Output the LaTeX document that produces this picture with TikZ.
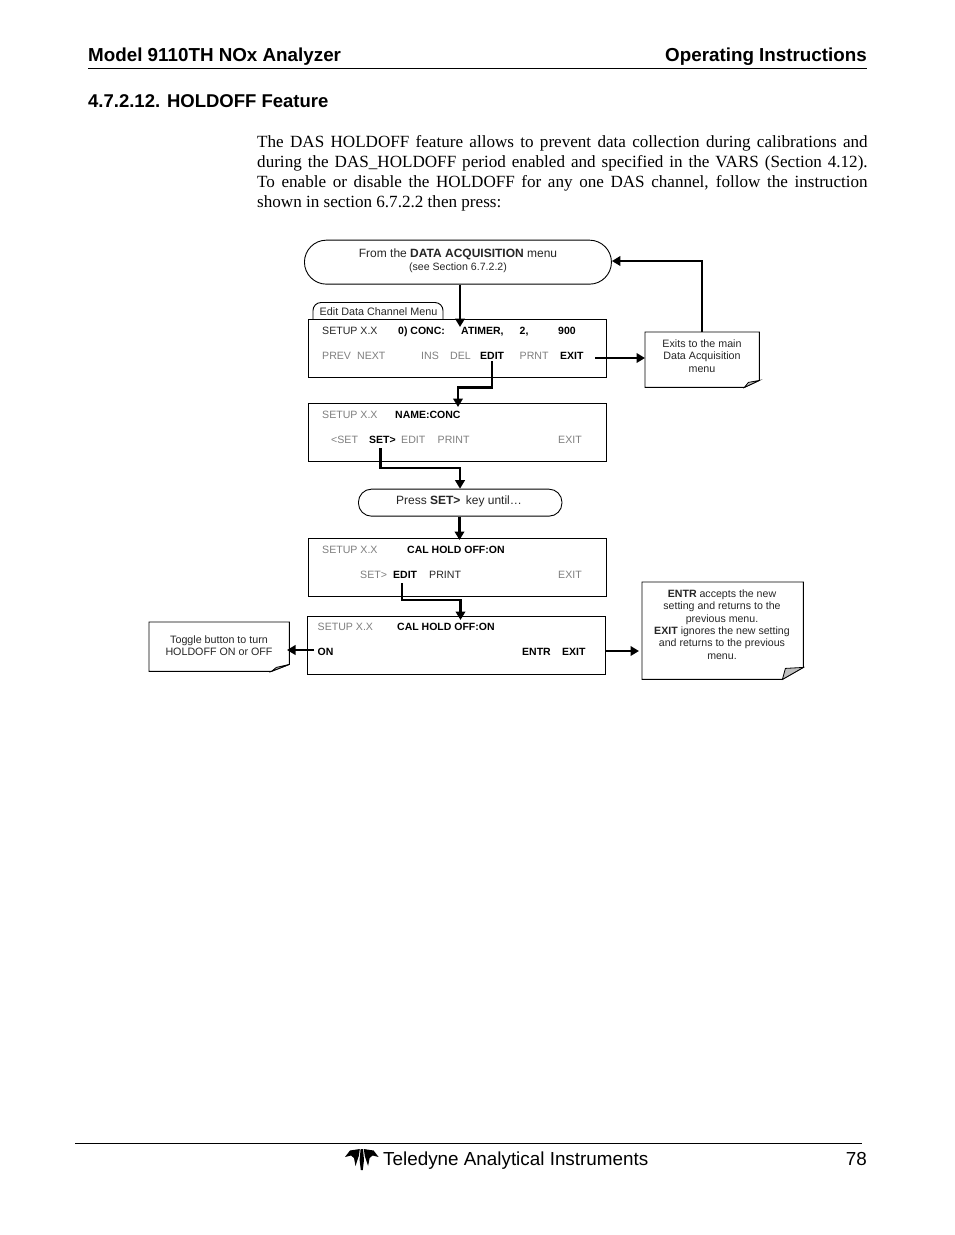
\documentclass[tikz,border=0pt]{standalone}
\usepackage{fontspec}
\setmainfont{Liberation Serif}
\newfontfamily\ar{Liberation Sans}
\usetikzlibrary{arrows.meta}
\definecolor{keygray}{HTML}{7F7F7F}
\definecolor{foldgray}{HTML}{BFBFBF}
\tikzset{
 x=1pt,y=-1pt,
 screen/.style={draw=black,line width=0.9pt,fill=white,minimum width=297.5pt,minimum height=57.5pt,inner sep=0pt,anchor=north west},
 pill/.style={draw=black,line width=0.9pt,fill=white,inner sep=0pt,anchor=north west,rounded corners=#1},
 conn/.style={line width=2.2pt,-{Triangle[length=8.5pt,width=9.5pt]},rounded corners=0pt},
 key/.style={font=\ar\fontsize{10.6}{12.5}\selectfont,anchor=base west,inner sep=0pt,text=black!85},
 big/.style={font=\ar\fontsize{12}{14}\selectfont,anchor=base,inner sep=0pt,text=black!85},
 off/.style={font=\ar\fontsize{10.6}{12.5}\selectfont,anchor=base west,inner sep=0pt,text=keygray},
 on/.style={font=\ar\bfseries\fontsize{10.5}{12.5}\selectfont,anchor=base west,inner sep=0pt,text=black},
 notebox/.style={inner sep=0pt,anchor=north west,align=center,font=\ar\fontsize{10.7}{12.5}\selectfont,text=black!85},
 head/.style={font=\ar\bfseries\fontsize{18.8}{20}\selectfont,anchor=base west,inner sep=0pt},
 foot/.style={font=\ar\fontsize{18.85}{22}\selectfont,anchor=base west,inner sep=0pt},
 rule/.style={line width=0.9pt,draw=black},
}
\newcommand{\lbl}[5]{\node[#4] (#1) at (#2,#3) {#5};}
% name, dx of fold on the bottom, dy of fold on the right, inner dx, inner dy
\newcommand{\foldnote}[5]{%
 \draw[line width=0.9pt,fill=white] (#1.north west) -- (#1.north east) -- ([yshift=#3pt]#1.south east) -- ([xshift=-#2pt]#1.south east) -- (#1.south west) -- cycle;
 \draw[line width=0.8pt,fill=foldgray] ([xshift=-#2pt]#1.south east) -- ([yshift=#3pt]#1.south east) -- ([xshift=-#4pt,yshift=#5pt]#1.south east) -- cycle;
 \draw[line width=1.4pt] (#1.north east) -- ([yshift=#3pt]#1.south east);
}
\begin{document}
\begin{tikzpicture}
\useasboundingbox (0,0) rectangle (954,1235);
\fill[white] (0,0) rectangle (954,1235);

% page header
\lbl{h1}{88}{61}{head}{Model 9110TH NOx Analyzer}
\node[head,anchor=base east] (h2) at (867,61) {Operating Instructions};
\draw[rule] (88,68.5) -- (867,68.5);
\lbl{h3}{88}{107.5}{head,font=\ar\bfseries\fontsize{18.5}{20}\selectfont}{4.7.2.12. HOLDOFF Feature}
\node[anchor=north west,inner sep=0pt,text width=610.5pt,align=justify,font=\fontsize{17.1}{20}\selectfont] (para) at (257,135.5)
{The DAS HOLDOFF feature allows to prevent data collection during calibrations and\linebreak
during the DAS\_HOLDOFF period enabled and specified in the VARS (Section 4.12).\linebreak
To enable or disable the HOLDOFF for any one DAS channel, follow the instruction\linebreak
shown in section 6.7.2.2 then press:};

% top oval
\node[pill=22pt,minimum width=307pt,minimum height=44pt] (oval1) at (304,239.7) {};
\lbl{o1a}{458}{257}{big}{From the \textbf{DATA ACQUISITION} menu}
\node[key,anchor=base,font=\ar\fontsize{10.6}{12}\selectfont] (o1b) at (458,270) {(see Section 6.7.2.2)};

% tab
\draw[line width=0.9pt,fill=white,rounded corners=8pt] (313,320) -- (313,302.5) -- (443,302.5) -- (443,320);
\lbl{tab}{319.5}{315}{key,font=\ar\fontsize{10.8}{12.5}\selectfont}{Edit Data Channel Menu}

% screens
\node[screen] (s1) at (308,319) {};
\lbl{a1}{322}{334}{key}{SETUP X.X}
\lbl{a2}{398}{334}{on}{0) CONC:}
\lbl{a3}{461}{334}{on}{ATIMER,}
\lbl{a4}{519.5}{334}{on}{2,}
\lbl{a5}{558}{334}{on}{900}
\lbl{b1}{322}{359}{off}{PREV}
\lbl{b2}{357}{359}{off}{NEXT}
\lbl{b3}{421}{359}{off}{INS}
\lbl{b4}{450}{359}{off}{DEL}
\lbl{b5}{480}{359}{on}{EDIT}
\lbl{b6}{519.5}{359}{off}{PRNT}
\lbl{b7}{560}{359}{on}{EXIT}

\node[screen] (s2) at (308,403) {};
\lbl{c1}{322}{418}{off}{SETUP X.X}
\lbl{c2}{395}{418}{on}{NAME:CONC}
\lbl{d1}{331}{443}{off}{<SET}
\lbl{d2}{369}{443}{on}{SET>}
\lbl{d3}{401}{443}{off}{EDIT}
\lbl{d4}{437.5}{443}{off}{PRINT}
\lbl{d5}{558}{443}{off}{EXIT}

\node[pill=13pt,minimum width=203.5pt,minimum height=27pt] (oval2) at (358,488.7) {};
\lbl{o2}{459}{504}{big}{Press \textbf{SET>}\, key until…}

\node[screen] (s3) at (308,538) {};
\lbl{e1}{322}{553}{off}{SETUP X.X}
\lbl{e2}{407}{553}{on}{CAL HOLD OFF:ON}
\lbl{f1}{360}{578}{off}{SET>}
\lbl{f2}{393}{578}{on}{EDIT}
\lbl{f3}{429}{578}{key}{PRINT}
\lbl{f4}{558}{578}{off}{EXIT}

\node[screen] (s4) at (307,616) {};
\draw[line width=1.6pt] (s4.north east) -- (s4.south east) -- (s4.south west);
\lbl{g1}{317.5}{630}{off}{SETUP X.X}
\lbl{g2}{397}{630}{on}{CAL HOLD OFF:ON}
\lbl{g3}{317.5}{655}{on}{ON}
\lbl{g4}{522}{655}{on}{ENTR}
\lbl{g5}{562}{655}{on}{EXIT}

% notes
\node[notebox,minimum width=114pt,minimum height=55pt] (n1) at (645,332) {};
\foldnote{n1}{15}{7}{11}{5}
\node[notebox,anchor=center] (n1t) at (702,356) {Exits to the main\\Data Acquisition\\menu};
\node[notebox,minimum width=161pt,minimum height=97pt] (n2) at (642,582) {};
\foldnote{n2}{21}{12}{18}{11}
\node[notebox,anchor=center,font=\ar\fontsize{10.6}{12.4}\selectfont] (n2t) at (722,624.5) {\textbf{ENTR} accepts the new\\setting and returns to the\\previous menu.\\\textbf{EXIT} ignores the new setting\\and returns to the previous\\menu.};
\node[notebox,minimum width=140pt,minimum height=49pt] (n3) at (149,622) {};
\foldnote{n3}{18}{7}{13}{4}
\node[notebox,anchor=center] (n3t) at (219,645.5) {Toggle button to turn\\HOLDOFF ON or OFF};

% turning points and arrow ends
\coordinate (t1) at (460,327);
\coordinate (bend1) at (458,387.5);
\coordinate (t2) at (458,407);
\coordinate (bend2) at (460,468);
\coordinate (bend3) at (460.5,600);
\coordinate (t3) at (460.5,620);
\coordinate (x1) at (595,358);
\coordinate (x4) at (605,651);
\coordinate (on1) at (314,650);
\coordinate (on2) at (287,650);
\coordinate (top1) at (702,261);
\coordinate (n2in) at (639,651);

% connectors
\draw[conn] (oval1.south -| t1) -- (t1);
\draw[conn] ([yshift=-2pt]b5.south) -- (b5.south |- bend1) -- (bend1) -- (t2);
\draw[conn] (x1) -- (n1.west |- x1);
\draw[conn] (n1.north -| top1) -- (top1) -- (oval1.east |- top1);
\draw[conn] (380.5,448) -- (380.5,468) -- (bend2) -- (oval2.north -| bend2);
\draw[conn] (oval2.south -| 459.5,0) -- (459.5,540);
\draw[conn] (402,583) -- (402,600) -- (bend3) -- (t3);
\draw[conn] (on1) -- (on2);
\draw[conn] (x4) -- (n2in);

% footer
\draw[rule] (75,1143) -- (862,1143);
\fill[black] (345,1157) -- (350,1150.5) -- (359.8,1149) -- (358.8,1156) -- (355.5,1166) -- (354,1158) -- (351,1155.5) -- cycle;
\fill[black] (378.6,1157) -- (373.6,1150.5) -- (363.8,1149) -- (364.8,1156) -- (368.1,1166) -- (369.6,1158) -- (372.6,1155.5) -- cycle;
\fill[black] (360.6,1149) -- (363,1149) -- (364,1160) -- (362.8,1170) -- (360.8,1170) -- (359.6,1160) -- cycle;
\lbl{f5}{383}{1165}{foot}{Teledyne Analytical Instruments}
\node[foot,anchor=base east] (f6) at (867,1165) {78};
\end{tikzpicture}
\end{document}
